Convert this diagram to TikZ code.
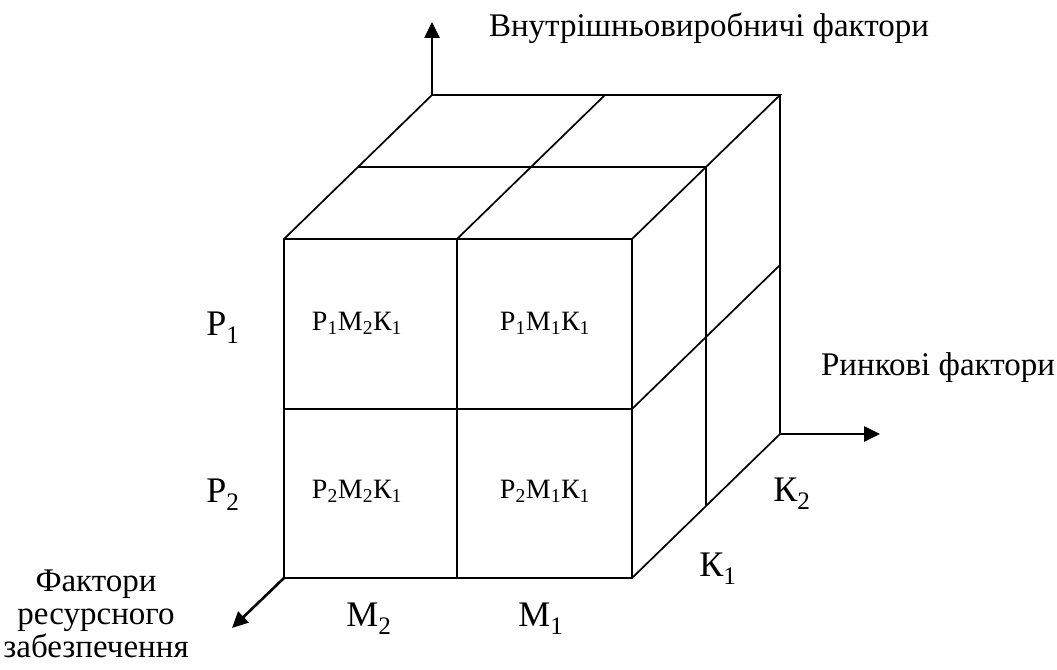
\documentclass[tikz,border=0pt]{standalone}
\usepackage{fontspec}
\setmainfont{Liberation Serif}
\usetikzlibrary{arrows.meta}
\begin{document}
\begin{tikzpicture}[x=1pt, y=-1pt,
    edge/.style={line width=1.7pt},
    axis/.style={-{Triangle[length=16pt, width=15pt]}, line width=2.6pt},
    cell/.style={font=\fontsize{28}{30}\selectfont, anchor=base},
    lbl/.style={font=\fontsize{36}{38}\selectfont, anchor=base},
    axlbl/.style={font=\fontsize{33}{33}\selectfont, align=center}
]
    \useasboundingbox (0,0) rectangle (1057,669);
    \coordinate (ftl) at (284,239);
    \coordinate (ftr) at (632,239);
    \coordinate (fbl) at (284,578);
    \coordinate (fbr) at (632,578);
    \coordinate (btl) at (432,95);
    \coordinate (btr) at (780,95);
    \coordinate (bbr) at (780,434);
    \coordinate (up) at (432,22);
    \coordinate (right) at (880,434);
    \coordinate (down) at (232,628);

    \draw[edge] (ftl) rectangle (fbr);
    \draw[edge] (457,239) -- (457,578);
    \draw[edge] (284,409) -- (632,409);
    \draw[edge] (ftl) -- (btl) -- (btr) -- (ftr);
    \draw[edge] (457,239) -- (605,95);
    \draw[edge] (358,167) -- (706,167);
    \draw[edge] (btr) -- (bbr) -- (fbr);
    \draw[edge] (706,167) -- (706,506);
    \draw[edge] (632,409) -- (780,265);

    \draw[axis] (btl) -- (up);
    \draw[axis] (bbr) -- (right);
    \draw[axis] (fbl) -- (down);

    \node[cell] (c11) at (357,330) {Р\textsubscript{1}М\textsubscript{2}К\textsubscript{1}};
    \node[cell] (c12) at (545,330) {Р\textsubscript{1}М\textsubscript{1}К\textsubscript{1}};
    \node[cell] (c21) at (357,498) {Р\textsubscript{2}М\textsubscript{2}К\textsubscript{1}};
    \node[cell] (c22) at (545,498) {Р\textsubscript{2}М\textsubscript{1}К\textsubscript{1}};

    \node[lbl] (p1) at (223,335) {Р\textsubscript{1}};
    \node[lbl] (p2) at (223,502) {Р\textsubscript{2}};
    \node[lbl] (m2) at (369,626) {М\textsubscript{2}};
    \node[lbl] (m1) at (541,626) {М\textsubscript{1}};
    \node[lbl] (k1) at (718,576) {К\textsubscript{1}};
    \node[lbl] (k2) at (792,501) {К\textsubscript{2}};

    \node[axlbl] (inner) at (709,28) {Внутрішньовиробничі фактори};
    \node[axlbl] (market) at (938,368) {Ринкові фактори};
    \node[axlbl] (resource) at (96,614) {Фактори\\ресурсного\\забезпечення};
\end{tikzpicture}
\end{document}
